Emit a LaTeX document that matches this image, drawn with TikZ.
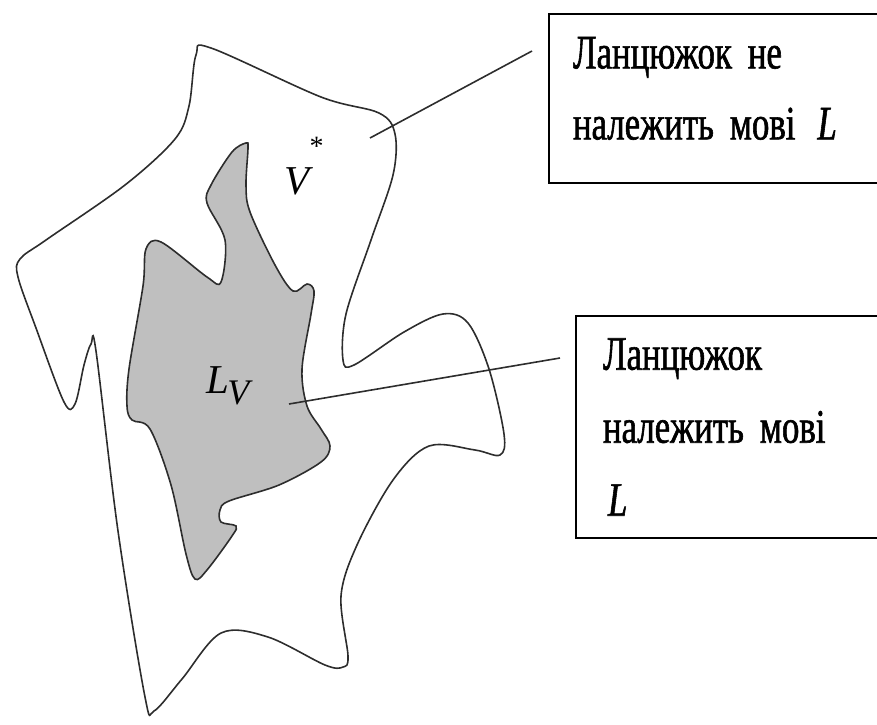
\documentclass[tikz,border=0pt]{standalone}
\usepackage{fontspec}
\setmainfont{Liberation Serif}[FakeStretch=0.725,FakeBold=1.2]
\newfontfamily\letterfont{Liberation Serif}
\definecolor{blobgray}{RGB}{191,191,191}
\definecolor{edgegray}{RGB}{45,45,45}
\newcommand\notefont[1]{\fontsize{48}{#1}\selectfont\spaceskip=9pt plus 2pt\relax}
\newcommand\liftedtext[2]{\raisebox{#1}[\height][\depth]{\parbox{320pt}{\raggedright #2}}}

\begin{document}
\begin{tikzpicture}[x=1pt,y=-1pt,
	blob/.style={draw=edgegray,line width=1.6pt},
	notebox/.style={draw=black,line width=2pt,anchor=north west,align=left,inner xsep=24pt,text width=320pt,font=\notefont{71}},
	pointer/.style={draw=edgegray,line width=1.6pt},
	setname/.style={font=\letterfont\itshape\fontsize{41}{41}\selectfont,inner sep=0pt}]
	\clip (0,0) rectangle (877,724);
	% V*
	\draw[blob] plot[smooth cycle,tension=0.55] coordinates {(211,48) (321,97) (379,113) (395,134) (393,175) (371,240) (346,314) (343,360) (354,365) (404,332) (443,314) (468,323) (489,369) (504,434) (500,455) (475,450) (429,446) (393,480) (357,545) (341,596) (348,656) (343,667) (325,665) (268,637) (221,633) (182,679) (154,711) (145,697) (118,531) (96,351) (91,344) (84,365) (75,404) (64,402) (36,328) (18,277) (20,259) (46,240) (125,185) (175,139) (189,106) (196,55)};
	% L_V
	\filldraw[blob,fill=blobgray] plot[smooth cycle,tension=0.55] coordinates {(246,143) (232,152) (211,185) (207,203) (225,240) (221,282) (207,277) (161,242) (146,249) (143,286) (129,369) (127,406) (132,420) (150,429) (171,485) (186,554) (195,579) (207,570) (232,536) (236,526) (221,522) (220,510) (229,501) (279,485) (321,462) (330,446) (321,429) (307,406) (302,369) (311,314) (314,291) (307,284) (293,291) (275,265) (250,212) (246,185) (248,148)};
	\node[setname] (vstar) at (304,166) {V\raisebox{0.95em}{\fontsize{28}{28}\selectfont\upshape *}};
	\node[setname] (lv) at (228,386) {L\hspace*{-2pt}\raisebox{-0.28em}{\fontsize{36}{36}\selectfont V}};
	\node[notebox,inner ysep=33pt] (outside) at (548,13) {\liftedtext{10pt}{Ланцюжок не\\належить мові\hspace*{22pt}{\itshape L}}};
	\node[notebox,minimum height=222pt,inner xsep=27pt,font=\notefont{73}] (inside) at (575,315) {Ланцюжок\\належить мові\\\hspace*{5pt}{\itshape L}};
	\coordinate (outtip) at (370,138);
	\coordinate (outend) at (532,51);
	\coordinate (intip) at (289,404);
	\coordinate (inend) at (560,358);
	\draw[pointer] (outtip) -- (outend);
	\draw[pointer] (intip) -- (inend);
\end{tikzpicture}
\end{document}
